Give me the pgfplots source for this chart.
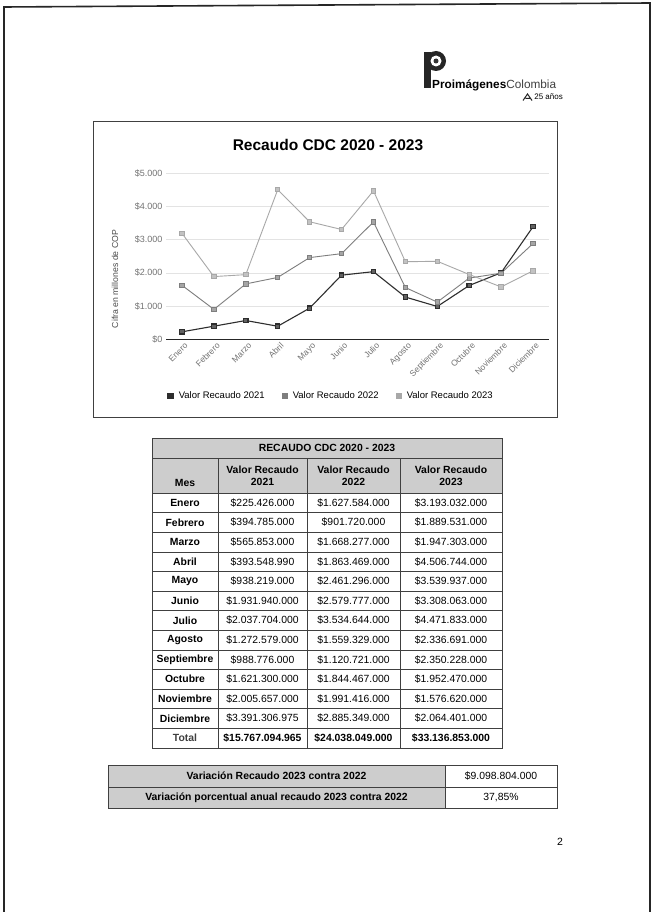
\documentclass[border=0pt]{standalone}
\usepackage{fontspec}
\setmainfont{Liberation Sans}
\usepackage{pgfplots}
\pgfplotsset{compat=1.18}
\definecolor{c21}{HTML}{2E2E2E}
\definecolor{c22}{HTML}{7E7E7E}
\definecolor{c23}{HTML}{A8A8A8}
\definecolor{cellgray}{HTML}{CDCDCD}
\newcommand{\tb}{\fontsize{10.4}{12}\selectfont}
\begin{document}
\begin{tikzpicture}[x=1pt,y=1pt]
\path[use as bounding box] (0,0) rectangle (653,-912);
\fill[white] (0,0) rectangle (653,-912);
% page frame
\draw[line width=1.6pt, black!85] (4,-912) -- (4,-7) -- (650,-3) -- (650,-912);
% logo
\fill[black!85] (424,-52) rectangle (431,-88);
\fill[black!85] (436,-61) circle (10);
\fill[white] (436,-61) circle (5.5);
\fill[black!80] (436,-61) circle (2.5);
\node[anchor=west, inner sep=0pt, font=\fontsize{11.8}{13}\selectfont] at (432,-85) {\textbf{Proimágenes}\textcolor{black!75}{Colombia}};
\node[anchor=east, inner sep=0pt, font=\fontsize{8}{9}\selectfont] at (563,-97) {25 años};
\draw[black!85, line width=1pt] (523,-100.5) -- (527.5,-94) -- (532,-100.5) (525.5,-98.5) -- (530,-98.5);
% chart box
\draw[black!75, line width=0.8pt] (93,-121) rectangle (557,-417);
\node[font=\fontsize{15.5}{18}\selectfont\bfseries] at (328,-145) {Recaudo CDC 2020 - 2023};
\begin{axis}[
  at={(166pt,-339.3pt)}, anchor=south west,
  scale only axis, width=383pt, height=166pt,
  xmin=-0.5, xmax=11.5, ymin=0, ymax=5000,
  xtick={0,...,11},
  xticklabels={Enero,Febrero,Marzo,Abril,Mayo,Junio,Julio,Agosto,Septiembre,Octubre,Noviembre,Diciembre},
  x tick label style={rotate=45, anchor=north east, xshift=3pt, font=\fontsize{8.5}{10}\selectfont, text=black!55},
  ytick={0,1000,2000,3000,4000,5000},
  yticklabels={\$0,\$1.000,\$2.000,\$3.000,\$4.000,\$5.000},
  y tick label style={font=\fontsize{9}{10}\selectfont, text=black!55},
  /pgf/number format/assume math mode=true,
  ymajorgrids, grid style={black!11, line width=0.6pt},
  axis x line*=bottom, axis y line*=left,
  y axis line style={draw=none},
  x axis line style={black!85, line width=1pt, -},
  major tick length=0pt,
  ylabel={Cifra en millones de COP},
  ylabel style={at={(axis description cs:-0.133,0.363)}, anchor=center, font=\fontsize{8.7}{10}\selectfont, text=black!70},
  legend columns=3,
  legend style={draw=none, at={(0.431,-0.342)}, anchor=center, font=\fontsize{9.5}{11}\selectfont,
    /tikz/every odd column/.append style={column sep=3pt},
    /tikz/every even column/.append style={column sep=15pt}},
  legend cell align=left,
  legend image code/.code={\fill[#1] (0pt,-2.6pt) rectangle (5.2pt,2.6pt);},
]
\addplot[c21, line width=1.1pt, mark=square*, mark size=2.2pt, mark options={fill=c21!75, draw=c21, solid}] coordinates {
(0,225.426) (1,394.785) (2,565.853) (3,393.549) (4,938.219) (5,1931.940) (6,2037.704) (7,1272.579) (8,988.776) (9,1621.300) (10,2005.657) (11,3391.307)};
\addlegendentry{Valor Recaudo 2021}
\addplot[c22, line width=0.9pt, mark=square*, mark size=2.2pt, mark options={fill=c22!70, draw=c22, solid}] coordinates {
(0,1627.584) (1,901.720) (2,1668.277) (3,1863.469) (4,2461.296) (5,2579.777) (6,3534.644) (7,1559.329) (8,1120.721) (9,1844.467) (10,1991.416) (11,2885.349)};
\addlegendentry{Valor Recaudo 2022}
\addplot[c23, line width=0.9pt, mark=square*, mark size=2.2pt, mark options={fill=c23!70, draw=c23, solid}] coordinates {
(0,3193.032) (1,1889.531) (2,1947.303) (3,4506.744) (4,3539.937) (5,3308.063) (6,4471.833) (7,2336.691) (8,2350.228) (9,1952.470) (10,1576.620) (11,2064.401)};
\addlegendentry{Valor Recaudo 2023}
\end{axis}
% table
\fill[cellgray] (152,-438) rectangle (502,-493);
\draw[black!75, line width=0.7pt] (152,-438) rectangle (502,-748);
\draw[black!75, line width=0.6pt] (152,-458) -- (502,-458);
\foreach \k in {0,...,12} {\draw[black!75, line width=0.6pt] (152,{-493-19.6*\k}) -- (502,{-493-19.6*\k});}
\foreach \xx in {218,307,400} {\draw[black!75, line width=0.6pt] (\xx,-458) -- (\xx,-748);}
\node[font=\tb\bfseries] at (327,-448) {RECAUDO CDC 2020 - 2023};
\node[font=\tb\bfseries] at (185,-483) {Mes};
\node[font=\tb\bfseries, align=center, inner sep=0pt] at (262.5,-475.5) {Valor Recaudo\\2021};
\node[font=\tb\bfseries, align=center, inner sep=0pt] at (353.5,-475.5) {Valor Recaudo\\2022};
\node[font=\tb\bfseries, align=center, inner sep=0pt] at (451,-475.5) {Valor Recaudo\\2023};
\foreach \m/\a/\b/\c [count=\i] in {
Enero/225.426.000/1.627.584.000/3.193.032.000,
Febrero/394.785.000/901.720.000/1.889.531.000,
Marzo/565.853.000/1.668.277.000/1.947.303.000,
Abril/393.548.990/1.863.469.000/4.506.744.000,
Mayo/938.219.000/2.461.296.000/3.539.937.000,
Junio/1.931.940.000/2.579.777.000/3.308.063.000,
Julio/2.037.704.000/3.534.644.000/4.471.833.000,
Agosto/1.272.579.000/1.559.329.000/2.336.691.000,
Septiembre/988.776.000/1.120.721.000/2.350.228.000,
Octubre/1.621.300.000/1.844.467.000/1.952.470.000,
Noviembre/2.005.657.000/1.991.416.000/1.576.620.000,
Diciembre/3.391.306.975/2.885.349.000/2.064.401.000}{
  \node[font=\tb\bfseries] at (185,{-493-19.6*(\i-0.5)}) {\m};
  \node[font=\tb] at (262.5,{-493-19.6*(\i-0.5)}) {\$\a};
  \node[font=\tb] at (353.5,{-493-19.6*(\i-0.5)}) {\$\b};
  \node[font=\tb] at (451,{-493-19.6*(\i-0.5)}) {\$\c};
}
\node[font=\tb\bfseries, text=black!75] at (185,-738.2) {Total};
\node[font=\tb\bfseries] at (262.5,-738.2) {\$15.767.094.965};
\node[font=\tb\bfseries] at (353.5,-738.2) {\$24.038.049.000};
\node[font=\tb\bfseries] at (451,-738.2) {\$33.136.853.000};
% variation table
\fill[cellgray] (108,-765) rectangle (445,-808);
\draw[black!75, line width=0.7pt] (108,-765) rectangle (557,-808);
\draw[black!75, line width=0.6pt] (108,-787) -- (557,-787) (445,-765) -- (445,-808);
\node[font=\tb\bfseries] at (276.5,-776) {Variación Recaudo 2023 contra 2022};
\node[font=\tb\bfseries] at (276.5,-797.5) {Variación porcentual anual recaudo 2023 contra 2022};
\node[font=\tb] at (501,-776) {\$9.098.804.000};
\node[font=\tb] at (501,-797.5) {37,85\%};
% page number
\node[font=\fontsize{10.5}{12}\selectfont] at (560,-842) {2};
\end{tikzpicture}
\end{document}
